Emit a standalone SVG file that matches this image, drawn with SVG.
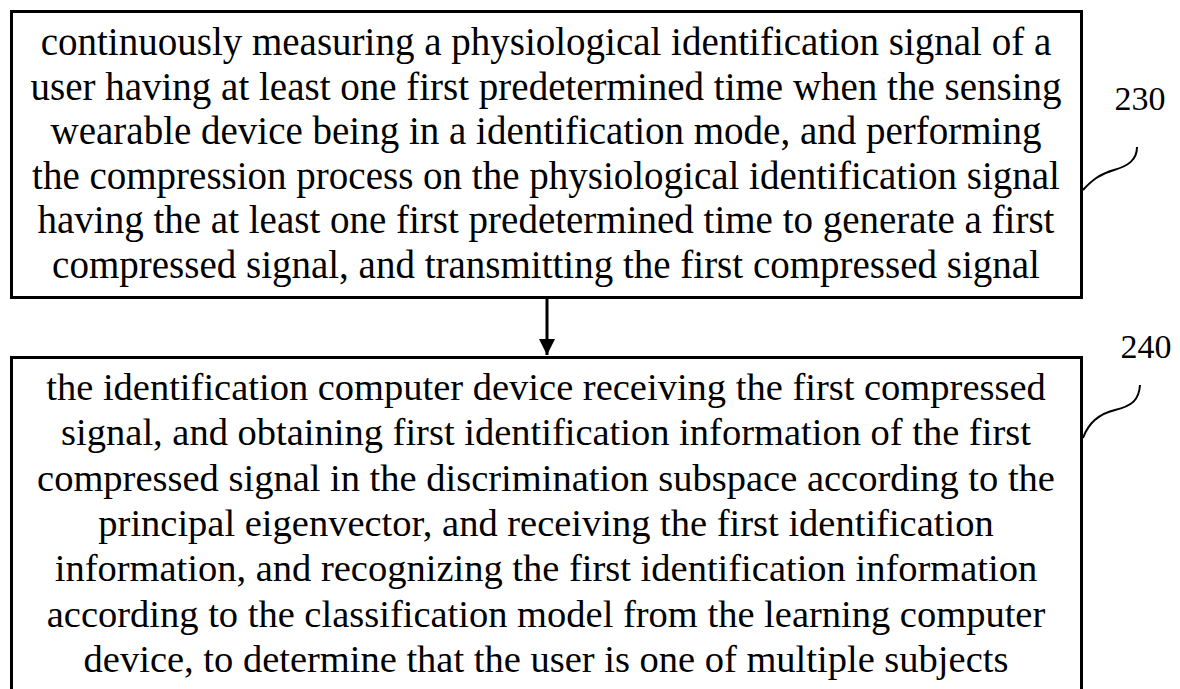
<svg xmlns="http://www.w3.org/2000/svg" width="1180" height="689" viewBox="0 0 1180 689">
  <style>
    .box { fill: #ffffff; stroke: #000000; stroke-width: 3; }
    .txt { font-family: "Liberation Serif", "Times New Roman", serif; font-size: 39px; fill: #000000; text-anchor: middle; }
    .txt2 { font-size: 38.5px; }
    .ref { font-family: "Liberation Serif", "Times New Roman", serif; font-size: 34px; fill: #000000; text-anchor: middle; }
    .lead { fill: none; stroke: #000000; stroke-width: 2; }
    .conn { fill: none; stroke: #000000; stroke-width: 3; }
  </style>
  <defs>
    <marker id="arrow" viewBox="0 0 16 16" refX="16" refY="8" markerWidth="16" markerHeight="16" markerUnits="userSpaceOnUse" orient="auto">
      <path d="M0,0 L16,8 L0,16 Z" fill="#000000"/>
    </marker>
  </defs>
  <rect width="1180" height="689" fill="#ffffff"/>

  <!-- step 230 -->
  <g id="step230">
    <rect class="box" x="11.5" y="11.5" width="1070" height="286"/>
    <text class="txt" x="546" y="55">continuously measuring a physiological identification signal of a</text>
    <text class="txt" x="546" y="100">user having at least one first predetermined time when the sensing</text>
    <text class="txt" x="546" y="144">wearable device being in a identification mode, and performing</text>
    <text class="txt" x="546" y="189">the compression process on the physiological identification signal</text>
    <text class="txt" x="546" y="233">having the at least one first predetermined time to generate a first</text>
    <text class="txt" x="546" y="278">compressed signal, and transmitting the first compressed signal</text>
  </g>
  <g id="label230">
    <text class="ref" x="1140" y="110">230</text>
    <path class="lead" d="M1083,190 C1092,180 1100,174 1114,170 C1128,166 1137,160 1137,147"/>
  </g>

  <!-- step 240 -->
  <g id="step240">
    <rect class="box" x="11.5" y="357.5" width="1070" height="340"/>
    <text class="txt txt2" x="546" y="400">the identification computer device receiving the first compressed</text>
    <text class="txt txt2" x="546" y="445">signal, and obtaining first identification information of the first</text>
    <text class="txt txt2" x="546" y="491">compressed signal in the discrimination subspace according to the</text>
    <text class="txt txt2" x="546" y="536">principal eigenvector, and receiving the first identification</text>
    <text class="txt txt2" x="546" y="581">information, and recognizing the first identification information</text>
    <text class="txt txt2" x="546" y="627">according to the classification model from the learning computer</text>
    <text class="txt txt2" x="546" y="672">device, to determine that the user is one of multiple subjects</text>
  </g>
  <g id="label240">
    <text class="ref" x="1146" y="358">240</text>
    <path class="lead" d="M1083,438 C1088,424 1098,414 1115,410 C1132,406 1139,400 1140,385"/>
  </g>

  <!-- connectors -->
  <g id="connectors">
    <line class="conn" x1="547" y1="299" x2="547" y2="355" marker-end="url(#arrow)"/>
  </g>
</svg>
